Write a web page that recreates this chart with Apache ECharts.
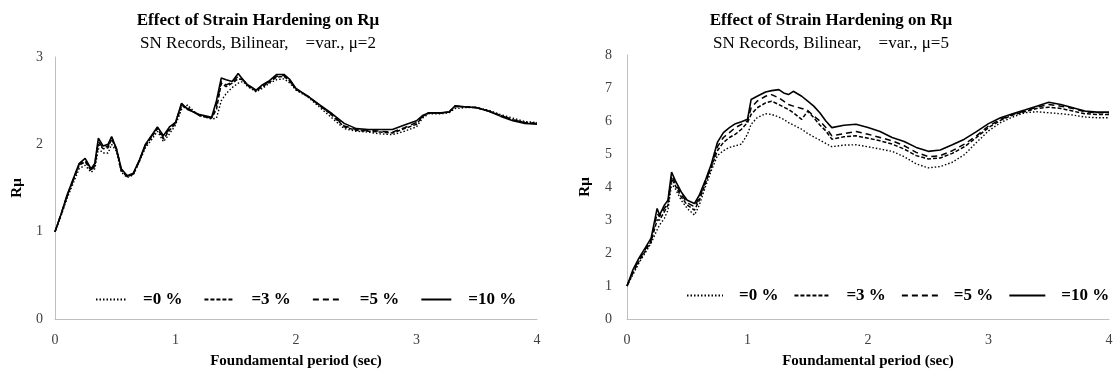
<!DOCTYPE html>
<html><head><meta charset="utf-8">
<script src="https://cdn.jsdelivr.net/npm/echarts@6/dist/echarts.min.js"></script>
<style>html,body{margin:0;padding:0;background:#fff}#c{width:1118px;height:374px}</style>
</head><body><div id="c"></div>
<script>
// ---- Left chart (mu = 2) ----
const periodsA = [0,0.05,0.1,0.15,0.2,0.25,0.3,0.33,0.36,0.4,0.44,0.47,0.51,0.55,0.6,0.65,0.7,0.75,0.8,0.85,0.9,0.95,1.0,1.05,1.1,1.15,1.2,1.3,1.34,1.38,1.42,1.47,1.52,1.56,1.6,1.67,1.72,1.78,1.84,1.9,1.95,2.0,2.1,2.2,2.3,2.4,2.5,2.6,2.7,2.8,2.9,3.0,3.05,3.1,3.2,3.27,3.32,3.4,3.5,3.6,3.7,3.8,3.9,4.0];
const a0 = [1.0,1.18,1.38,1.55,1.72,1.76,1.68,1.72,1.95,1.9,1.9,2.0,1.92,1.68,1.62,1.65,1.8,1.96,2.05,2.15,2.03,2.12,2.22,2.4,2.45,2.38,2.33,2.29,2.3,2.5,2.58,2.65,2.7,2.72,2.66,2.6,2.64,2.7,2.74,2.75,2.7,2.62,2.54,2.42,2.3,2.18,2.15,2.14,2.12,2.11,2.15,2.2,2.3,2.35,2.35,2.36,2.41,2.42,2.42,2.39,2.34,2.3,2.26,2.25];
const a3 = [1.0,1.19,1.4,1.58,1.76,1.8,1.7,1.75,2.0,1.95,1.96,2.06,1.94,1.7,1.63,1.66,1.81,1.98,2.08,2.18,2.06,2.16,2.24,2.44,2.42,2.37,2.33,2.3,2.4,2.7,2.66,2.7,2.75,2.74,2.67,2.61,2.66,2.71,2.77,2.78,2.72,2.63,2.55,2.44,2.33,2.2,2.16,2.15,2.14,2.13,2.18,2.23,2.32,2.36,2.36,2.37,2.43,2.43,2.42,2.38,2.33,2.28,2.25,2.24];
const a5 = [1.0,1.2,1.41,1.59,1.77,1.82,1.71,1.77,2.03,1.96,1.98,2.08,1.95,1.71,1.63,1.66,1.81,1.99,2.09,2.19,2.08,2.18,2.25,2.46,2.41,2.37,2.33,2.3,2.45,2.72,2.68,2.71,2.78,2.74,2.68,2.62,2.67,2.72,2.78,2.79,2.73,2.63,2.55,2.44,2.34,2.21,2.17,2.16,2.15,2.14,2.19,2.25,2.32,2.36,2.36,2.37,2.44,2.43,2.42,2.38,2.33,2.28,2.25,2.24];
const a10 = [1.0,1.2,1.42,1.6,1.78,1.84,1.72,1.78,2.07,1.98,2.0,2.09,1.95,1.72,1.64,1.67,1.82,2.0,2.1,2.2,2.1,2.2,2.25,2.47,2.4,2.37,2.34,2.31,2.5,2.76,2.74,2.72,2.81,2.74,2.68,2.62,2.68,2.73,2.8,2.8,2.74,2.64,2.55,2.45,2.35,2.24,2.18,2.17,2.17,2.17,2.22,2.27,2.33,2.36,2.36,2.37,2.44,2.43,2.42,2.38,2.32,2.27,2.24,2.23];

// ---- Right chart (mu = 5) ----
const periodsB = [0,0.05,0.1,0.15,0.2,0.25,0.27,0.31,0.34,0.37,0.4,0.45,0.5,0.56,0.6,0.65,0.7,0.75,0.8,0.85,0.9,0.95,1.0,1.03,1.08,1.15,1.2,1.26,1.3,1.34,1.38,1.45,1.5,1.55,1.6,1.65,1.7,1.8,1.9,2.0,2.1,2.2,2.3,2.4,2.5,2.6,2.7,2.8,2.9,3.0,3.1,3.2,3.3,3.4,3.5,3.6,3.7,3.8,3.9,4.0];
const b0 = [1.0,1.35,1.7,2.0,2.3,2.7,2.85,3.05,3.3,4.1,3.95,3.6,3.35,3.15,3.45,4.0,4.5,4.95,5.1,5.2,5.25,5.3,5.6,5.9,6.1,6.22,6.2,6.12,6.05,5.95,5.88,5.75,5.62,5.52,5.42,5.32,5.22,5.27,5.28,5.22,5.15,5.08,4.92,4.7,4.58,4.62,4.75,4.98,5.35,5.7,5.95,6.12,6.25,6.28,6.25,6.22,6.18,6.12,6.1,6.1];
const b3 = [1.0,1.4,1.75,2.05,2.35,3.0,3.0,3.25,3.45,4.25,4.05,3.7,3.45,3.3,3.6,4.1,4.6,5.1,5.35,5.5,5.6,5.75,5.95,6.2,6.4,6.55,6.6,6.5,6.42,6.35,6.25,6.05,6.3,6.1,5.88,5.7,5.45,5.52,5.55,5.48,5.4,5.3,5.15,4.95,4.85,4.88,5.02,5.22,5.5,5.8,6.02,6.18,6.28,6.38,6.42,6.38,6.3,6.22,6.2,6.2];
const b5 = [1.0,1.45,1.8,2.1,2.4,3.2,3.1,3.35,3.5,4.35,4.12,3.78,3.52,3.4,3.68,4.15,4.65,5.22,5.5,5.65,5.8,5.9,6.0,6.4,6.6,6.75,6.8,6.7,6.6,6.5,6.45,6.38,6.32,6.15,6.0,5.8,5.55,5.62,5.68,5.6,5.5,5.4,5.25,5.05,4.92,4.95,5.1,5.3,5.55,5.85,6.05,6.2,6.3,6.42,6.5,6.45,6.38,6.28,6.25,6.25];
const b10 = [1.0,1.5,1.85,2.15,2.45,3.35,3.15,3.45,3.6,4.45,4.2,3.85,3.6,3.5,3.75,4.2,4.7,5.35,5.65,5.8,5.92,5.98,6.05,6.65,6.75,6.88,6.92,6.95,6.85,6.8,6.9,6.75,6.6,6.45,6.25,6.0,5.8,5.87,5.9,5.8,5.68,5.5,5.38,5.2,5.08,5.12,5.28,5.45,5.68,5.92,6.1,6.22,6.33,6.45,6.57,6.5,6.4,6.3,6.27,6.27];

const legendNames = ['=0 %','=3 %','=5 %','=10 %'];
const titleText = 'Effect of Strain Hardening on Rμ';
const subA = 'SN Records, Bilinear,    =var., μ=2';
const subB = 'SN Records, Bilinear,    =var., μ=5';
const xName = 'Foundamental period (sec)';
const yName = 'Rμ';

const FONT = '"Liberation Serif", "Times New Roman", serif';
const styles = [
  {type:[1.5,2], width:1.4},
  {type:[4,2], width:1.5},
  {type:[6,4], width:1.5},
  {type:'solid', width:1.6}
];
function pairs(xs, ys){ return xs.map((x,i)=>[x, ys[i]]); }
function mkSeries(idx, xs, arrs){
  return arrs.map((ys,k)=>({
    type:'line', name:legendNames[k], xAxisIndex:idx, yAxisIndex:idx,
    data:pairs(xs, ys), symbol:'none', showSymbol:false, smooth:false,
    lineStyle:{color:'#000', width:styles[k].width, type:styles[k].type},
    itemStyle:{color:'#000'}, animation:false
  }));
}
function xAx(idx){
  return {type:'value', gridIndex:idx, min:0, max:4, interval:1,
    axisLine:{show:true, lineStyle:{color:'#bfbfbf', width:1}}, axisTick:{show:false}, splitLine:{show:false},
    axisLabel:{fontFamily:FONT, fontSize:14, color:'#404040', margin:14},
    name:xName, nameLocation:'middle', nameGap:35,
    nameTextStyle:{fontFamily:FONT, fontSize:15, fontWeight:'bold', color:'#000'}};
}
function yAx(idx, max, gap, margin){
  return {type:'value', gridIndex:idx, min:0, max:max, interval:1,
    axisLine:{show:true, lineStyle:{color:'#bfbfbf', width:1}}, axisTick:{show:false}, splitLine:{show:false},
    axisLabel:{fontFamily:FONT, fontSize:14, color:'#404040', margin:margin},
    name:yName, nameLocation:'middle', nameGap:gap,
    nameTextStyle:{fontFamily:FONT, fontSize:15, fontWeight:'bold', color:'#000'}};
}
function mkLegend(left, top, w, pad, gap){
  return {data:legendNames, left:left, top:top, width:460, padding:0,
    itemWidth:w, itemHeight:10, itemGap:gap,
    itemStyle:{opacity:0},
    textStyle:{fontFamily:FONT, fontSize:17, fontWeight:'bold', color:'#000', padding:[0,0,0,pad]},
    selectedMode:false};
}
const chart = echarts.init(document.getElementById('c'));
chart.setOption({
  backgroundColor:'#fff',
  animation:false,
  title:[
    {text:titleText, subtext:subA, left:253, top:7, textAlign:'center', itemGap:6,
     textStyle:{fontFamily:FONT, fontSize:17, fontWeight:'bold', color:'#000'},
     subtextStyle:{fontFamily:FONT, fontSize:17, color:'#000'}},
    {text:titleText, subtext:subB, left:826, top:7, textAlign:'center', itemGap:6,
     textStyle:{fontFamily:FONT, fontSize:17, fontWeight:'bold', color:'#000'},
     subtextStyle:{fontFamily:FONT, fontSize:17, color:'#000'}}
  ],
  grid:[
    {left:55, right:581, top:57, bottom:53},
    {left:627, right:9, top:55, bottom:53}
  ],
  legend:[mkLegend(95, 291, 30, 12, 21), mkLegend(686, 287, 36, 11, 15)],
  xAxis:[xAx(0), xAx(1)],
  yAxis:[yAx(0,3,30,12), yAx(1,8,34,15)],
  series:[].concat(mkSeries(0, periodsA, [a0,a3,a5,a10]), mkSeries(1, periodsB, [b0,b3,b5,b10]))
});
</script></body></html>
